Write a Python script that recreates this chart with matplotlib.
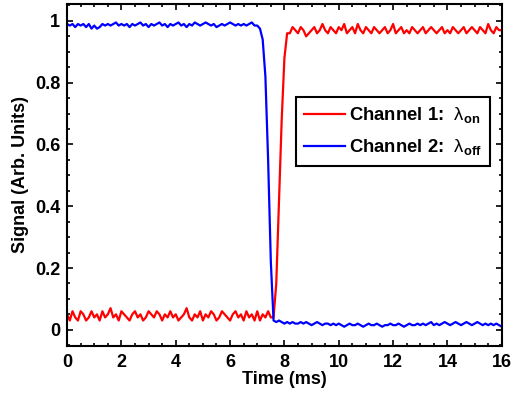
import numpy as np
import matplotlib
matplotlib.use("Agg")
import matplotlib.pyplot as plt
from matplotlib.ticker import MultipleLocator

plt.rcParams['font.family'] = ['Liberation Sans', 'DejaVu Sans']
plt.rcParams['mathtext.fontset'] = 'custom'
plt.rcParams['mathtext.rm'] = 'Liberation Sans'
plt.rcParams['mathtext.it'] = 'Liberation Sans'
plt.rcParams['mathtext.bf'] = 'Liberation Sans:bold'

# time step 0.1 ms, 0..16 ms
time_ms = np.round(np.arange(161) * 0.1, 1)

channel1 = [
    0.05, 0.03, 0.06, 0.04, 0.03, 0.06, 0.05, 0.03, 0.04, 0.06,
    0.04, 0.05, 0.03, 0.06, 0.04, 0.05, 0.07, 0.04, 0.05, 0.03,
    0.06, 0.05, 0.04, 0.03, 0.05, 0.06, 0.04, 0.05, 0.03, 0.04,
    0.06, 0.05, 0.04, 0.06, 0.05, 0.03, 0.05, 0.04, 0.06, 0.04,
    0.05, 0.03, 0.04, 0.05, 0.07, 0.04, 0.03, 0.05, 0.04, 0.06,
    0.03, 0.05, 0.04, 0.06, 0.05, 0.03, 0.04, 0.06, 0.05, 0.04,
    0.03, 0.05, 0.06, 0.04, 0.05, 0.03, 0.06, 0.04, 0.05, 0.03,
    0.06, 0.03, 0.05, 0.04, 0.06, 0.04,
    0.04, 0.15, 0.42, 0.68, 0.88, 0.96,
    0.96, 0.98, 0.97, 0.96, 0.98, 0.97, 0.95, 0.96, 0.97, 0.98,
    0.96, 0.97, 0.99, 0.97, 0.96, 0.98, 0.97, 0.96, 0.98, 0.97,
    0.99, 0.96, 0.97, 0.98, 0.96, 0.99, 0.97, 0.96, 0.98, 0.97,
    0.96, 0.98, 0.97, 0.96, 0.97, 0.98, 0.96, 0.97, 0.99, 0.96,
    0.97, 0.98, 0.96, 0.97, 0.96, 0.98, 0.97, 0.96, 0.97, 0.98,
    0.96, 0.97, 0.98, 0.97, 0.96, 0.97, 0.98, 0.96, 0.97, 0.96,
    0.98, 0.97, 0.96, 0.97, 0.98, 0.96, 0.97, 0.98, 0.97, 0.96,
    0.98, 0.97, 0.96, 0.99, 0.97, 0.96, 0.98, 0.97, 0.97,
]

channel2 = [
    0.99, 0.985, 0.99, 0.98, 0.99, 0.985, 0.99, 0.98, 0.99, 0.975,
    0.985, 0.975, 0.98, 0.99, 0.985, 0.99, 0.985, 0.99, 0.995, 0.985,
    0.99, 0.985, 0.99, 0.98, 0.99, 0.985, 0.99, 0.995, 0.985, 0.99,
    0.98, 0.99, 0.985, 0.99, 0.995, 0.985, 0.99, 0.98, 0.99, 0.985,
    0.99, 0.995, 0.985, 0.99, 0.98, 0.99, 0.985, 0.995, 0.99, 0.985,
    0.99, 0.995, 0.99, 0.985, 0.99, 0.98, 0.985, 0.99, 0.985, 0.99,
    0.995, 0.99, 0.985, 0.99, 0.985, 0.99, 0.985, 0.99, 0.995, 0.985,
    0.985,
    0.975, 0.94, 0.82, 0.55, 0.22, 0.03,
    0.025, 0.03, 0.025, 0.02, 0.025, 0.02, 0.025, 0.02, 0.02, 0.025,
    0.02, 0.025, 0.02, 0.015, 0.02, 0.025, 0.02, 0.015, 0.02, 0.02,
    0.015, 0.02, 0.015, 0.02, 0.015, 0.01, 0.015, 0.02, 0.015, 0.015,
    0.02, 0.015, 0.01, 0.015, 0.02, 0.015, 0.015, 0.02, 0.015, 0.01,
    0.015, 0.015, 0.02, 0.015, 0.015, 0.02, 0.015, 0.01, 0.015, 0.02,
    0.015, 0.015, 0.02, 0.015, 0.02, 0.015, 0.02, 0.025, 0.015, 0.02,
    0.015, 0.02, 0.025, 0.02, 0.015, 0.02, 0.025, 0.02, 0.015, 0.02,
    0.025, 0.02, 0.015, 0.02, 0.025, 0.02, 0.015, 0.02, 0.015, 0.02,
    0.015, 0.02, 0.015, 0.01,
]

labels = [r'Channel 1:  $\lambda_{\mathbf{on}}$', r'Channel 2:  $\lambda_{\mathbf{off}}$']
xticks = [0, 2, 4, 6, 8, 10, 12, 14, 16]
yticks = [0, 0.2, 0.4, 0.6, 0.8, 1]
yticklabels = ['0', '0.2', '0.4', '0.6', '0.8', '1']

fig = plt.figure(figsize=(5.12, 3.93), dpi=100)
ax = fig.add_axes([0.131, 0.120, 0.849, 0.870])

ax.plot(time_ms, channel1, color='#ff0000', lw=1.6, label=labels[0])
ax.plot(time_ms, channel2, color='#0000ff', lw=1.6, label=labels[1])

ax.set_xlim(0, 16)
ax.set_ylim(-0.052, 1.055)
ax.set_xticks(xticks)
ax.set_yticks(yticks)
ax.set_yticklabels(yticklabels)
ax.xaxis.set_minor_locator(MultipleLocator(0.5))
ax.yaxis.set_minor_locator(MultipleLocator(0.05))
ax.tick_params(which='both', direction='in', top=True, right=True, width=1.2)
ax.tick_params(which='major', length=4, labelsize=13, pad=5)
ax.tick_params(axis='x', which='major', pad=6)
ax.tick_params(which='minor', length=2)
for lab in ax.get_xticklabels() + ax.get_yticklabels():
    lab.set_fontweight('bold')
for s in ax.spines.values():
    s.set_linewidth(1.5)

ax.set_xlabel('Time (ms)', fontsize=13, fontweight='bold', labelpad=0)
ax.set_ylabel('Signal (Arb. Units)', fontsize=13, fontweight='bold', labelpad=4)

leg = ax.legend(loc='upper left', bbox_to_anchor=(0.526, 0.728), borderaxespad=0,
                prop={'weight': 'bold', 'size': 13.3}, fancybox=False, framealpha=1,
                edgecolor='black', handlelength=2.2, handletextpad=0.25,
                borderpad=0.45, labelspacing=0.65)
leg.get_frame().set_linewidth(1.5)

fig.savefig('out.png', dpi=100)
